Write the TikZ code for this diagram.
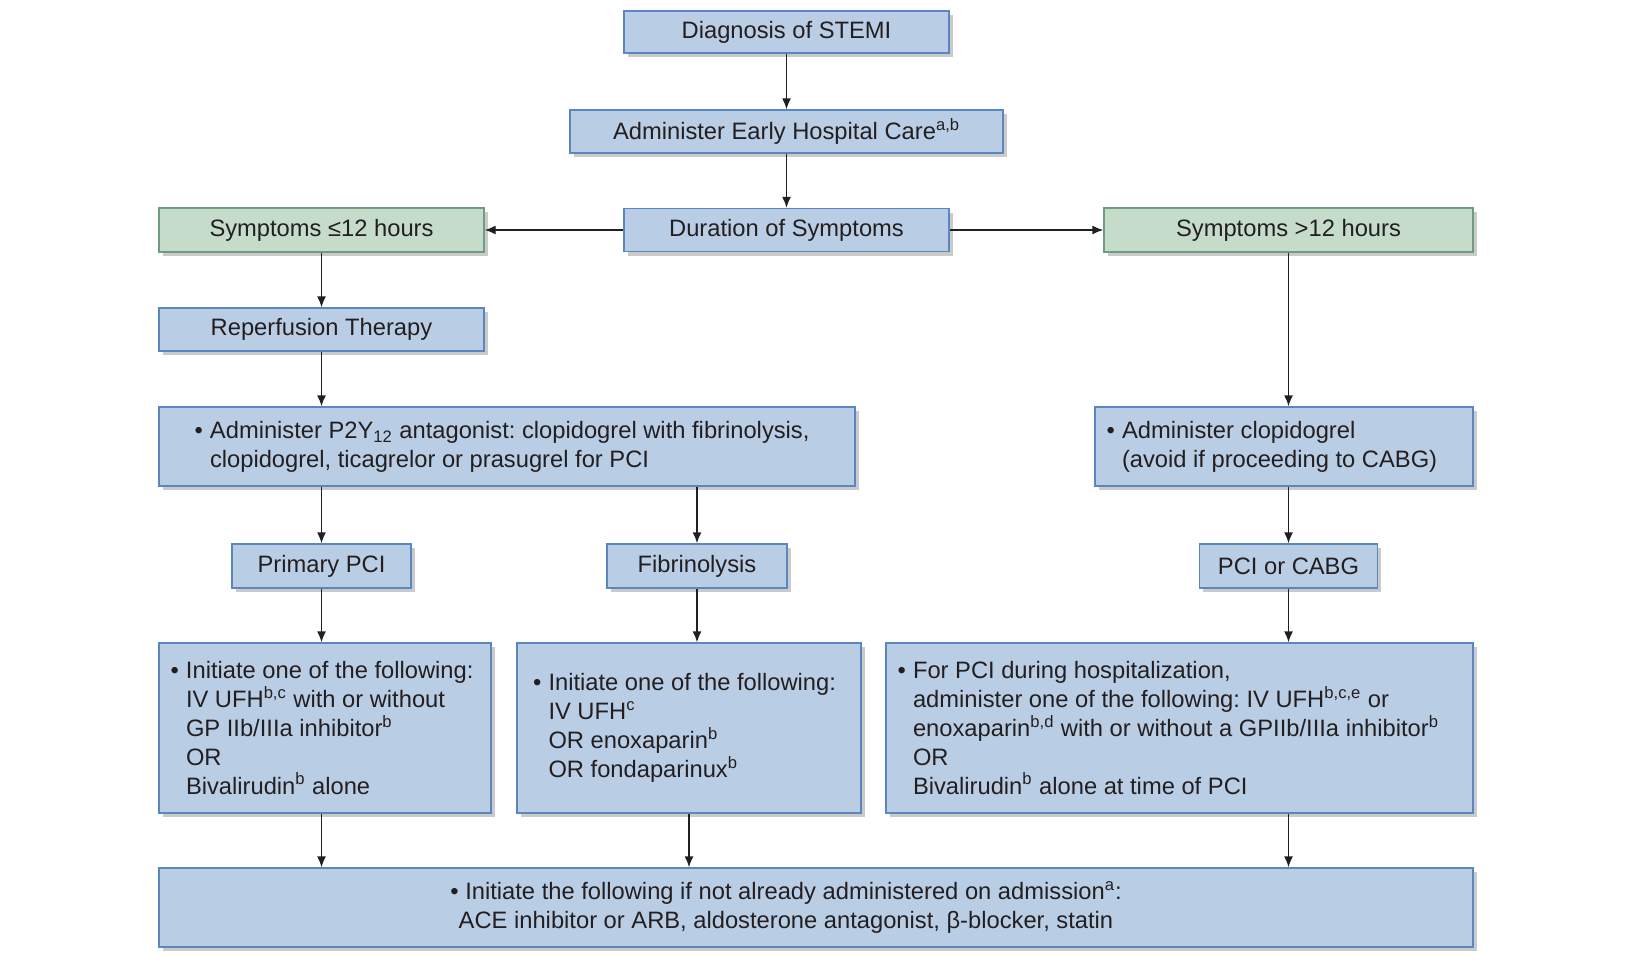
\documentclass[tikz,border=0pt]{standalone}
\usepackage{fontspec}
\setmainfont{Liberation Sans}
\usepackage{xcolor}
\usepackage{tikz}
\usetikzlibrary{arrows.meta, positioning, shadows}
\definecolor{stblue}{HTML}{B9CDE5}
\definecolor{stblueline}{HTML}{5B87C0}
\definecolor{stgreen}{HTML}{C5DCCB}
\definecolor{stgreenline}{HTML}{6F9C7E}
\definecolor{sttext}{HTML}{231F20}
\newcommand{\bul}{\makebox[0.31cm][l]{\textbullet}}
\newcommand{\ind}{\hspace*{0.31cm}}
\frenchspacing

\begin{document}
\begin{tikzpicture}[
    box/.style={draw=stblueline, fill=stblue, line width=0.8pt, text=sttext,
                font=\fontsize{13.5}{16.4}\selectfont,
                drop shadow={shadow xshift=0.07cm, shadow yshift=-0.08cm, opacity=0.35, fill=black!60}},
    gbox/.style={box, draw=stgreenline, fill=stgreen},
    lbox/.style={box, align=flush left, inner xsep=0.23cm},
    arr/.style={-{Latex[length=2.2mm, width=1.8mm]}, line width=0.8pt, sttext},
]
    \useasboundingbox (0,0) rectangle (32.8,-19.26);

    \node[box, minimum width=6.5cm, minimum height=0.84cm] (diag) at (15.73,-0.64) {Diagnosis of STEMI};
    \node[box, minimum width=8.66cm, minimum height=0.86cm] (early) at (15.73,-2.63) {Administer Early Hospital Care\textsuperscript{a,b}};
    \node[box, minimum width=6.5cm, minimum height=0.86cm] (dur) at (15.73,-4.6) {Duration of Symptoms};

    \node[gbox, minimum width=6.5cm, minimum height=0.88cm] (short) at (6.43,-4.6) {Symptoms ≤12 hours};
    \node[gbox, minimum width=7.38cm, minimum height=0.88cm] (long) at (25.77,-4.6) {Symptoms >12 hours};

    \node[box, minimum width=6.5cm, minimum height=0.86cm] (reper) at (6.43,-6.59) {Reperfusion Therapy};

    \node[lbox, text width=12.5cm, inner xsep=0.71cm, minimum height=1.58cm] (ptwo) at (10.14,-8.93)
        {\bul Administer P2Y\textsubscript{12} antagonist: clopidogrel with fibrinolysis,\\
         \ind clopidogrel, ticagrelor or prasugrel for PCI};
    \node[lbox, text width=7.1cm, minimum height=1.58cm] (clop) at (25.68,-8.93)
        {\bul Administer clopidogrel\\
         \ind(avoid if proceeding to CABG)};

    \node[box, minimum width=3.58cm, minimum height=0.88cm] (ppci) at (6.43,-11.32) {Primary PCI};
    \node[box, minimum width=3.6cm, minimum height=0.88cm] (fib) at (13.94,-11.32) {Fibrinolysis};
    \node[box, minimum width=3.56cm, minimum height=0.88cm] (pcab) at (25.77,-11.32) {PCI or CABG};

    \node[lbox, text width=6.18cm, minimum height=3.4cm] (anta) at (6.5,-14.56)
        {\bul Initiate one of the following:\\
         \ind IV UFH\textsuperscript{b,c} with or without\\
         \ind GP IIb/IIIa inhibitor\textsuperscript{b}\\
         \ind OR\\
         \ind Bivalirudin\textsuperscript{b} alone};
    \node[lbox, text width=6.24cm, inner xsep=0.32cm, minimum height=3.4cm] (antb) at (13.78,-14.56)
        {\bul Initiate one of the following:\\
         \ind IV UFH\textsuperscript{c}\\
         \ind OR enoxaparin\textsuperscript{b}\\
         \ind OR fondaparinux\textsuperscript{b}};
    \node[lbox, text width=11.28cm, minimum height=3.4cm] (antc) at (23.59,-14.56)
        {\bul For PCI during hospitalization,\\
         \ind administer one of the following: IV UFH\textsuperscript{b,c,e} or\\
         \ind enoxaparin\textsuperscript{b,d} with or without a GPIIb/IIIa inhibitor\textsuperscript{b}\\
         \ind OR\\
         \ind Bivalirudin\textsuperscript{b} alone at time of PCI};

    \node[box, align=center, minimum width=26.28cm, minimum height=1.58cm] (bottom) at (16.32,-18.15)
        {\textbullet\ Initiate the following if not already administered on admission\textsuperscript{a}:\hspace*{1.2cm}\\
         ACE inhibitor or ARB, aldosterone antagonist, β-blocker, statin\hspace*{1.2cm}};

    % connectors
    \draw[arr] (diag) -- (early);
    \draw[arr] (early) -- (dur);
    \draw[arr] (dur.west) -- (short.east);
    \draw[arr] (dur.east) -- (long.west);
    \draw[arr] (short) -- (reper);
    \draw[arr] (reper.south) -- (reper.south |- ptwo.north);
    \draw[arr] (ppci.north |- ptwo.south) -- (ppci.north);
    \draw[arr] (fib.north |- ptwo.south) -- (fib.north);
    \draw[arr] (long.south) -- (long.south |- clop.north);
    \draw[arr] (pcab.north |- clop.south) -- (pcab.north);
    \draw[arr] (ppci.south) -- (ppci.south |- anta.north);
    \draw[arr] (fib.south) -- (fib.south |- antb.north);
    \draw[arr] (pcab.south) -- (pcab.south |- antc.north);
    \draw[arr] (ppci.south |- anta.south) -- (ppci.south |- bottom.north);
    \draw[arr] (antb.south) -- (antb.south |- bottom.north);
    \draw[arr] (pcab.south |- antc.south) -- (pcab.south |- bottom.north);
\end{tikzpicture}
\end{document}
